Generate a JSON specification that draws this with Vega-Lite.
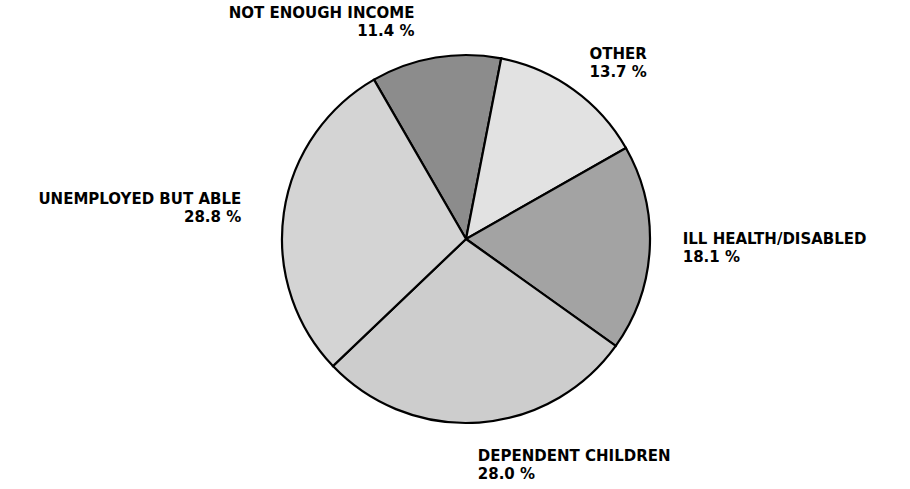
{
  "$schema": "https://vega.github.io/schema/vega-lite/v6.json",
  "autosize": {"type": "none"},
  "width": 888,
  "height": 478,
  "padding": {"left": 22, "top": 0, "right": 0, "bottom": 11},
  "background": "white",
  "config": {"view": {"stroke": null}, "text": {"font": "DejaVu Sans", "fontWeight": "bold", "fontSize": 15, "lineHeight": 18, "lineBreak": "\n", "baseline": "middle", "color": "black"}},
  "data": {
    "values": [
      {"slot": 1, "category": "NOT ENOUGH INCOME", "label": "NOT ENOUGH INCOME\n11.4 %", "pct": 11.4},
      {"slot": 2, "category": "OTHER", "label": "OTHER\n13.7 %", "pct": 13.7},
      {"slot": 3, "category": "ILL HEALTH/DISABLED", "label": "ILL HEALTH/DISABLED\n18.1 %", "pct": 18.1},
      {"slot": 4, "category": "DEPENDENT CHILDREN", "label": "DEPENDENT CHILDREN\n28.0 %", "pct": 28.0},
      {"slot": 5, "category": "UNEMPLOYED BUT ABLE", "label": "UNEMPLOYED BUT ABLE\n28.8 %", "pct": 28.8}
    ]
  },
  "encoding": {
    "theta": {"field": "pct", "type": "quantitative", "stack": true, "scale": {"range": [-0.5236, 5.7596]}},
    "order": {"field": "slot", "type": "quantitative"}
  },
  "layer": [
    {
      "mark": {"type": "arc", "outerRadius": 184, "stroke": "black", "strokeWidth": 2.2},
      "encoding": {
        "color": {
          "field": "category",
          "type": "nominal",
          "legend": null,
          "scale": {
            "domain": ["NOT ENOUGH INCOME", "OTHER", "ILL HEALTH/DISABLED", "DEPENDENT CHILDREN", "UNEMPLOYED BUT ABLE"],
            "range": ["#8c8c8c", "#e2e2e2", "#a3a3a3", "#cdcdcd", "#d4d4d4"]
          }
        }
      }
    },
    {
      "mark": {"type": "text", "radius": 222, "align": "right", "dx": -15, "dy": -7},
      "encoding": {"text": {"condition": {"test": "datum.slot == 1", "field": "label", "type": "nominal"}, "value": ""}}
    },
    {
      "mark": {"type": "text", "radius": 222, "align": "left", "dx": -6, "dy": -5},
      "encoding": {"text": {"condition": {"test": "datum.slot == 2", "field": "label", "type": "nominal"}, "value": ""}}
    },
    {
      "mark": {"type": "text", "radius": 222, "align": "left", "dx": -5, "dy": -11},
      "encoding": {"text": {"condition": {"test": "datum.slot == 3", "field": "label", "type": "nominal"}, "value": ""}}
    },
    {
      "mark": {"type": "text", "radius": 222, "align": "left", "dx": -4, "dy": -4},
      "encoding": {"text": {"condition": {"test": "datum.slot == 4", "field": "label", "type": "nominal"}, "value": ""}}
    },
    {
      "mark": {"type": "text", "radius": 222, "align": "right", "dx": -5, "dy": -8},
      "encoding": {"text": {"condition": {"test": "datum.slot == 5", "field": "label", "type": "nominal"}, "value": ""}}
    }
  ]
}
